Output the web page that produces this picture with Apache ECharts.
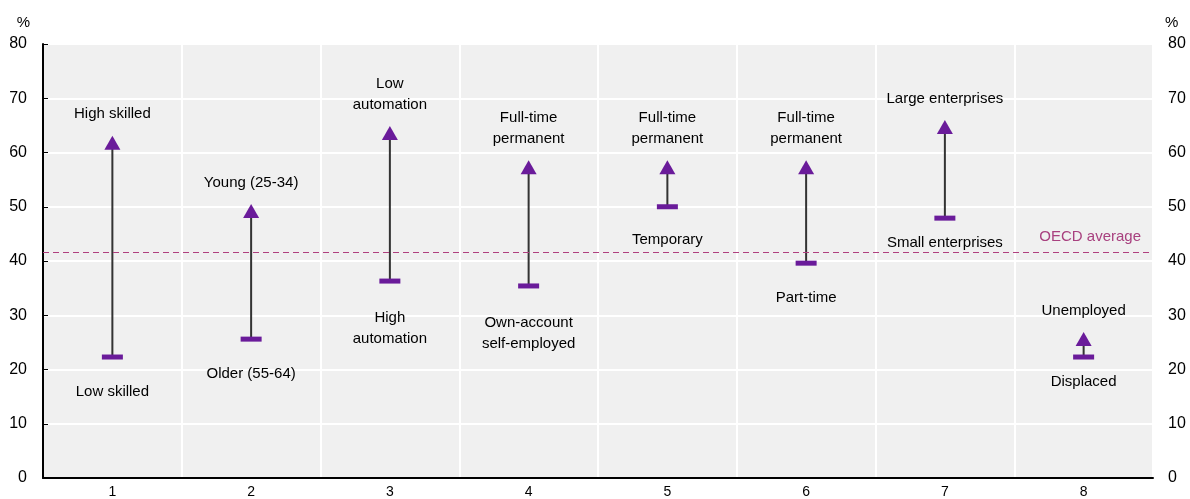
<!DOCTYPE html>
<html>
<head>
<meta charset="utf-8">
<script src="https://cdn.jsdelivr.net/npm/echarts@6/dist/echarts.min.js"></script>
<style>
  html, body { margin: 0; padding: 0; background: #fff; }
  #chart { width: 1190px; height: 499px; }
</style>
</head>
<body>
<div id="chart"></div>
<script>
// categories and values
var categories = ['1', '2', '3', '4', '5', '6', '7', '8'];
var lowValues = [22.3, 25.6, 36.3, 35.4, 50.0, 39.6, 47.9, 22.3];
var highValues = [61.8, 49.2, 63.6, 57.3, 57.3, 57.3, 64.7, 25.6];
var lowLabels = ['Low skilled', 'Older (55-64)', 'High\nautomation', 'Own-account\nself-employed',
  'Temporary', 'Part-time', 'Small enterprises', 'Displaced'];
var highLabels = ['High skilled', 'Young (25-34)', 'Low\nautomation', 'Full-time\npermanent',
  'Full-time\npermanent', 'Full-time\npermanent', 'Large enterprises', 'Unemployed'];
var oecdAverage = 41.7;

var purple = '#6a1b9a';
var font = '"Liberation Sans", Arial, sans-serif';

// label gap under the low marker (a couple sit closer)
var lowGap = [22, 22, 24, 24, 20, 22, 12, 12];

var chart = echarts.init(document.getElementById('chart'));

var option = {
  animation: false,
  textStyle: { fontFamily: font },
  grid: {
    left: 43, right: 37, top: 44, bottom: 21,
    show: true, backgroundColor: '#f0f0f0', borderWidth: 0
  },
  xAxis: {
    type: 'category',
    data: categories,
    boundaryGap: true,
    axisLine: { lineStyle: { color: '#000', width: 2 } },
    axisTick: { inside: true, length: 5, lineStyle: { color: '#000', width: 1 } },
    axisLabel: { color: '#000', fontSize: 14, margin: 7, fontFamily: font },
    splitLine: { show: true, lineStyle: { color: '#fff', width: 2 } }
  },
  yAxis: [{
    type: 'value', min: 0, max: 80, interval: 10,
    name: '%', nameLocation: 'end', nameGap: 14,
    nameTextStyle: { color: '#000', fontSize: 15, align: 'right', padding: [0, 13, 0, 0], fontFamily: font },
    axisLine: { show: true, lineStyle: { color: '#000', width: 2 } },
    axisTick: { show: true, inside: true, length: 5, lineStyle: { color: '#000' } },
    axisLabel: { color: '#000', fontSize: 16, margin: 16, fontFamily: font },
    splitLine: { show: true, lineStyle: { color: '#fff', width: 2 } }
  }, {
    type: 'value', min: 0, max: 80, interval: 10, position: 'right',
    name: '%', nameLocation: 'end', nameGap: 14,
    nameTextStyle: { color: '#000', fontSize: 15, align: 'left', padding: [0, 0, 0, 12], fontFamily: font },
    axisLine: { show: false },
    axisTick: { show: false },
    axisLabel: { color: '#000', fontSize: 16, margin: 15, fontFamily: font },
    splitLine: { show: false }
  }],
  series: [{
    type: 'custom',
    name: 'range',
    data: categories.map(function (c, i) { return [i, lowValues[i], highValues[i]]; }),
    renderItem: function (params, api) {
      var a = api.coord([api.value(0), api.value(1)]);
      var b = api.coord([api.value(0), api.value(2)]);
      return {
        type: 'line',
        shape: { x1: a[0], y1: a[1], x2: b[0], y2: b[1] },
        style: { stroke: '#333', lineWidth: 2 }
      };
    },
    z: 2
  }, {
    type: 'scatter',
    name: 'low',
    symbol: 'rect',
    symbolSize: [21, 5],
    itemStyle: { color: purple, opacity: 1 },
    data: lowValues.map(function (v, i) {
      return {
        value: [i, v],
        label: {
          show: true, position: 'bottom', distance: lowGap[i],
          formatter: lowLabels[i], color: '#000', fontSize: 15, lineHeight: 21, fontFamily: font
        }
      };
    }),
    z: 3
  }, {
    type: 'scatter',
    name: 'high',
    symbol: 'triangle',
    symbolSize: [16, 14],
    itemStyle: { color: purple, opacity: 1 },
    data: highValues.map(function (v, i) {
      return {
        value: [i, v],
        label: {
          show: true, position: 'top', distance: 11,
          formatter: highLabels[i], color: '#000', fontSize: 15, lineHeight: 21, fontFamily: font
        }
      };
    }),
    markLine: {
      silent: true,
      symbol: ['none', 'none'],
      lineStyle: { color: '#b0407f', type: [6, 4], width: 1.2 },
      label: {
        show: true, position: 'insideEndTop', formatter: 'OECD average',
        color: '#a8417f', fontSize: 15, distance: [12, 7], fontFamily: font
      },
      data: [{ yAxis: oecdAverage }]
    },
    z: 4
  }]
};

chart.setOption(option);
</script>
</body>
</html>
